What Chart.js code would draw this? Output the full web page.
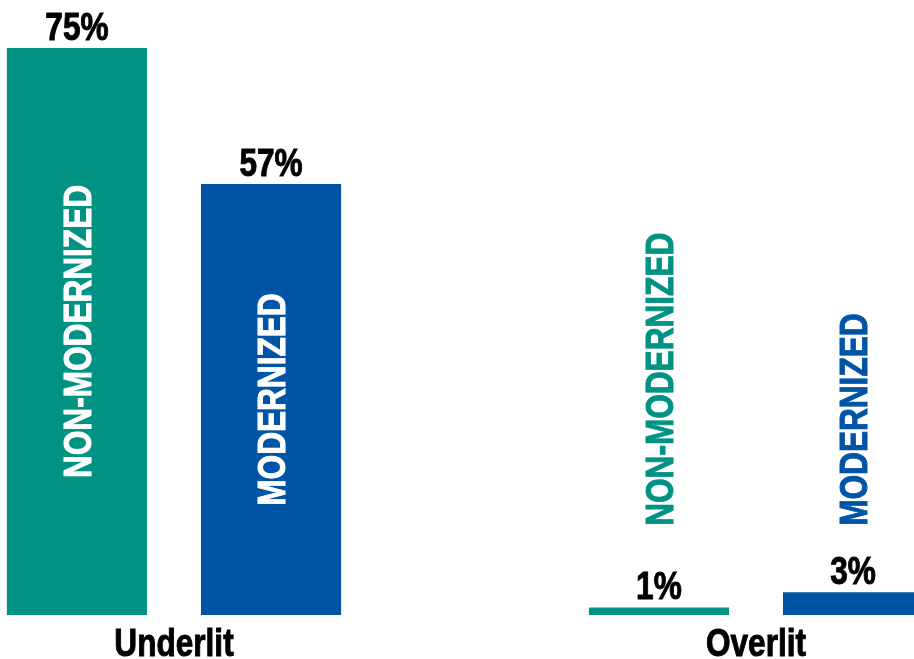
<!DOCTYPE html>
<html>
<head>
<meta charset="utf-8">
<script src="https://cdn.jsdelivr.net/npm/chart.js@4"></script>
<style>
    html, body { margin: 0; padding: 0; background: #fff; overflow: hidden; width: 914px; height: 659px; }
    #caja { position: absolute; left: -117px; top: 0; width: 1164px; height: 659px; }
</style>
</head>
<body>
<div id="caja"><canvas id="grafico"></canvas></div>
<script>
// Datos
const categorias = ['Underlit', 'Overlit'];
const series = ['NON-MODERNIZED', 'MODERNIZED'];
const noModernizado = [75, 1];
const modernizado = [57, 3];
const colores = ['#009384', '#0054a6'];

// Fuente angosta: Liberation Sans Bold comprimida en horizontal
const FUENTE = 'bold 39px "Liberation Sans", Arial, sans-serif';
const ANGOSTO = 0.81;

function textoAngosto(ctx, texto, x, y) {
    ctx.save();
    ctx.translate(x, y);
    ctx.scale(ANGOSTO, 1);
    ctx.lineWidth = 1;
    ctx.strokeStyle = ctx.fillStyle;
    ctx.fillText(texto, 0, 0);
    ctx.strokeText(texto, 0, 0);
    ctx.restore();
}

// Etiquetas de valor, nombres de serie (rotados) y categorías
const etiquetasPlugin = {
    id: 'etiquetas',
    afterDatasetsDraw(chart) {
        const ctx = chart.ctx;
        const escalaY = chart.scales.y;
        chart.data.datasets.forEach((ds, i) => {
            const meta = chart.getDatasetMeta(i);
            meta.data.forEach((bar, j) => {
                ctx.save();
                ctx.font = FUENTE;
                ctx.fillStyle = '#000';
                ctx.textAlign = 'center';
                ctx.textBaseline = 'alphabetic';
                textoAngosto(ctx, ds.data[j] + '%', bar.x, bar.y - 8);

                // nombre de la serie en vertical
                const largo = ctx.measureText(ds.label).width * ANGOSTO;
                const alto = bar.base - bar.y;
                let centroY, color;
                if (alto > largo + 40) {
                    centroY = (bar.y + bar.base) / 2;
                    color = '#fff';
                } else {
                    // fuera de la barra, sobre la etiqueta del valor
                    centroY = escalaY.getPixelForValue(11.8) - largo / 2;
                    color = ds.backgroundColor;
                }
                ctx.translate(bar.x + 14, centroY);
                ctx.rotate(-Math.PI / 2);
                ctx.fillStyle = color;
                textoAngosto(ctx, ds.label, 0, 0);
                ctx.restore();
            });
        });

        // categorías del eje x
        const escalaX = chart.scales.x;
        ctx.save();
        ctx.font = FUENTE;
        ctx.fillStyle = '#000';
        ctx.textAlign = 'center';
        ctx.textBaseline = 'alphabetic';
        categorias.forEach((cat, i) => {
            textoAngosto(ctx, cat, escalaX.getPixelForTick(i), escalaX.bottom - 3);
        });
        ctx.restore();
    }
};

new Chart(document.getElementById('grafico'), {
    type: 'bar',
    data: {
        labels: categorias,
        datasets: [
            { label: series[0], data: noModernizado, backgroundColor: colores[0] },
            { label: series[1], data: modernizado, backgroundColor: colores[1] }
        ]
    },
    options: {
        responsive: true,
        maintainAspectRatio: false,
        devicePixelRatio: 1,
        animation: false,
        layout: { padding: 0 },
        categoryPercentage: 0.667,
        barPercentage: 0.722,
        plugins: {
            legend: { display: false },
            tooltip: { enabled: false }
        },
        scales: {
            x: {
                grid: { display: false },
                border: { display: false },
                ticks: { color: 'rgba(0,0,0,0)', font: { size: 30 } },
                afterFit: escala => { escala.height = 44; }
            },
            y: {
                display: false,
                min: 0,
                max: 81.35
            }
        }
    },
    plugins: [etiquetasPlugin]
});
</script>
</body>
</html>
